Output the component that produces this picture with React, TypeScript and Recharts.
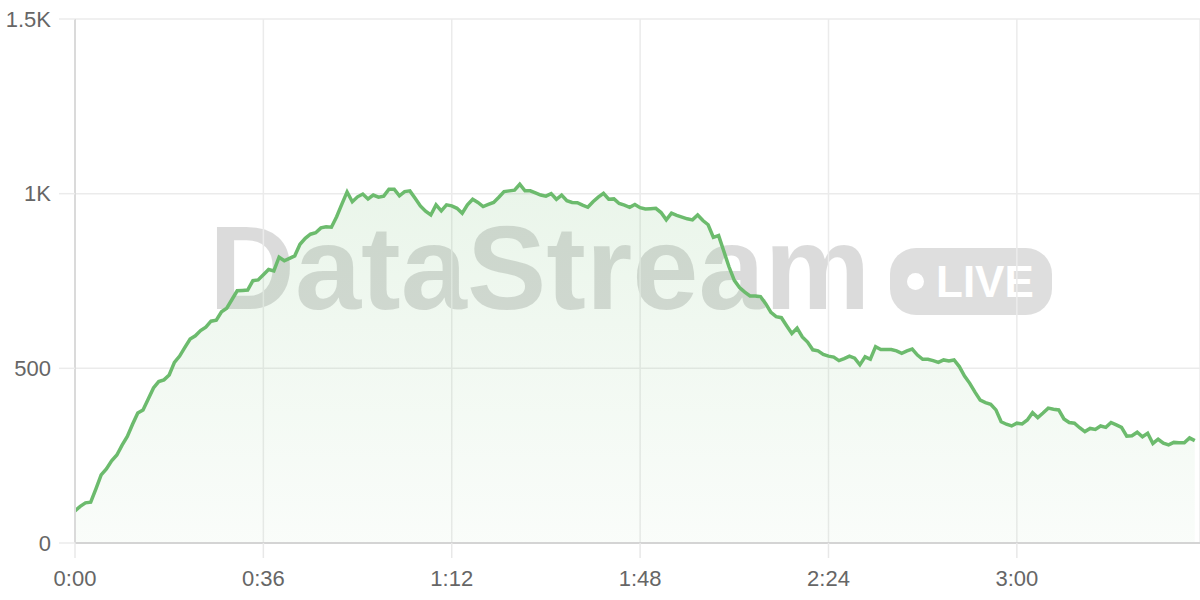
import { AreaChart, Area, XAxis, YAxis, CartesianGrid } from 'recharts';

// viewers per second (one sample per second)
const FIRST_MINUTE = [
  92, 105, 115, 117, 155, 195, 212, 235, 252, 280,
  305, 340, 372, 381, 412, 444, 462, 467, 481, 517,
  535, 560, 584, 593, 608, 618, 635, 638, 662, 672,
  697, 722, 723, 724, 751, 753, 768, 783, 779, 818,
  808, 815, 822, 855, 872, 884, 888, 902, 905, 904,
  934, 970, 1005, 977, 991, 999, 985, 996, 990, 993,
];
const SECOND_MINUTE = [
  1013, 1013, 994, 1006, 1008, 987, 965, 950, 939, 968,
  951, 968, 965, 958, 944, 968, 984, 975, 963, 969,
  975, 990, 1006, 1008, 1010, 1027, 1008, 1008, 1002, 996,
  993, 1000, 984, 996, 980, 975, 974, 967, 961, 977,
  990, 1001, 984, 985, 972, 967, 961, 969, 960, 956,
  957, 958, 946, 925, 944, 938, 933, 928, 925, 939,
];
const THIRD_MINUTE = [
  923, 911, 875, 880, 835, 790, 752, 731, 718, 707,
  707, 705, 685, 660, 648, 645, 622, 600, 615, 590,
  575, 553, 550, 540, 535, 532, 522, 528, 535, 529,
  510, 533, 526, 562, 554, 554, 554, 550, 543, 550,
  555, 538, 526, 526, 522, 517, 524, 521, 524, 505,
  478, 457, 432, 409, 402, 397, 381, 347, 340, 335,
];
const LAST_SECONDS = [
  343, 341, 352, 373, 359, 372, 386, 383, 381, 355,
  345, 343, 330, 319, 328, 325, 335, 331, 345, 338,
  331, 306, 307, 317, 304, 314, 285, 297, 286, 281,
  288, 287, 287, 301, 293,
];

const X_TICKS = [0, 36, 72, 108, 144, 180];
const Y_TICKS = [0, 500, 1000, 1500];

const data = [...FIRST_MINUTE, ...SECOND_MINUTE, ...THIRD_MINUTE, ...LAST_SECONDS].map(
  (v, i) => ({ t: i, v })
);

const FONT = '"Liberation Sans", Arial, sans-serif';
const GREEN = '#6cbb6d';

const fmtTime = (s: number) => `${Math.floor(s / 60)}:${String(s % 60).padStart(2, '0')}`;
const fmtCount = (v: number) => (v >= 1000 ? `${v / 1000}K` : `${v}`);

const tickStyle = { fill: '#666', fontSize: 22, fontFamily: FONT };

const Watermark = () => (
  <div
    style={{
      position: 'absolute',
      left: 0,
      top: 0,
      width: 1200,
      height: 600,
      pointerEvents: 'none',
      fontFamily: FONT,
      fontWeight: 700,
    }}
  >
    <div
      style={{
        position: 'absolute',
        left: 209,
        top: 200,
        fontSize: 119,
        lineHeight: '136px',
        color: 'rgba(0,0,0,0.14)',
        whiteSpace: 'nowrap',
      }}
    >
      DataStream
    </div>
    <div
      style={{
        position: 'absolute',
        left: 890,
        top: 248,
        width: 162,
        height: 67,
        borderRadius: 26,
        background: 'rgba(0,0,0,0.13)',
        display: 'flex',
        alignItems: 'center',
      }}
    >
      <span
        style={{
          display: 'inline-block',
          width: 17,
          height: 17,
          borderRadius: '50%',
          background: '#fff',
          marginLeft: 17,
          marginRight: 12,
        }}
      />
      <span style={{ color: '#fff', fontSize: 44 }}>LIVE</span>
    </div>
  </div>
);

export default function App() {
  return (
    <div style={{ position: 'absolute', left: 0, top: 0, width: 1200, height: 600, background: '#fff' }}>
      <Watermark />
      <div style={{ position: 'absolute', left: 0, top: 0 }}>
        <AreaChart width={1200} height={600} data={data} margin={{ top: 19, right: 0, bottom: 0, left: 0 }}>
          <defs>
            <linearGradient id="flowFill" x1="0" y1="0" x2="0" y2="1">
              <stop offset="0%" stopColor={GREEN} stopOpacity={0.24} />
              <stop offset="100%" stopColor={GREEN} stopOpacity={0.06} />
            </linearGradient>
          </defs>
          <CartesianGrid stroke="#ebebeb" strokeWidth={1.5} />
          <XAxis
            dataKey="t"
            type="number"
            domain={[0, 215]}
            ticks={X_TICKS}
            tickFormatter={fmtTime}
            height={57}
            tickSize={15}
            tickMargin={12}
            tick={tickStyle}
            stroke="#d4d4d4"
            strokeWidth={2}
            tickLine={{ stroke: '#e8e8e8', strokeWidth: 1.5 }}
          />
          <YAxis
            domain={[0, 1500]}
            ticks={Y_TICKS}
            tickFormatter={fmtCount}
            width={75}
            tickSize={16}
            tickMargin={8}
            tick={tickStyle}
            stroke="#dadada"
            strokeWidth={2}
            tickLine={{ stroke: '#ebebeb', strokeWidth: 1.5 }}
          />
          <Area
            type="linear"
            dataKey="v"
            stroke={GREEN}
            strokeWidth={3.5}
            fill="url(#flowFill)"
            isAnimationActive={false}
            dot={false}
            activeDot={false}
          />
        </AreaChart>
      </div>
    </div>
  );
}
